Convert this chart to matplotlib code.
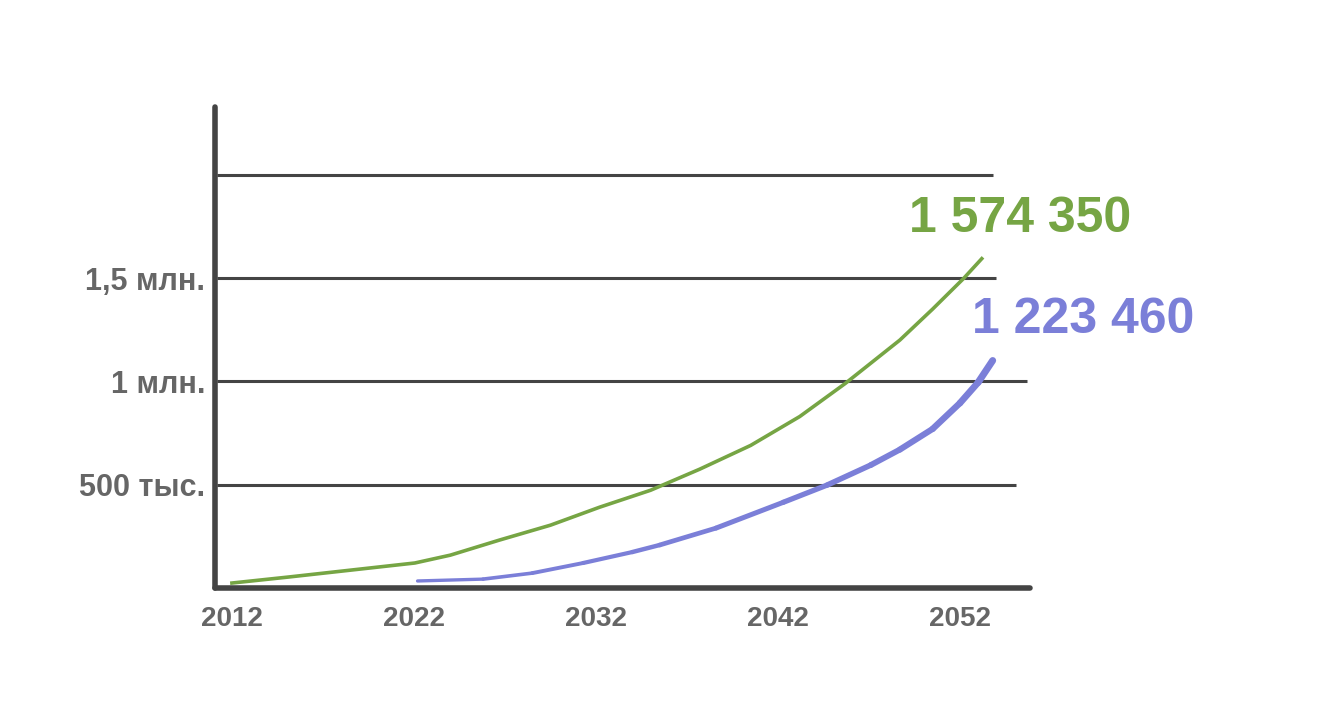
import matplotlib.pyplot as plt
import numpy as np
from matplotlib.collections import LineCollection

plt.rcParams['font.family'] = ['Liberation Sans', 'DejaVu Sans']

# values
green_years = [2012.0, 2015.1, 2022.05, 2024.0, 2026.7, 2029.5, 2032.2, 2035.0, 2037.7,
               2040.5, 2043.2, 2045.7, 2048.7, 2050.5, 2052.2, 2053.2]
green_vals = [24e3, 53e3, 121e3, 159e3, 232e3, 304e3, 391e3, 473e3, 575e3,
              690e3, 830e3, 990e3, 1200e3, 1350e3, 1498e3, 1594e3]

blue_years = [2022.2, 2025.8, 2028.5, 2031.3, 2034.0, 2035.5, 2038.6, 2042.3, 2044.7,
              2047.1, 2048.7, 2050.5, 2052.0, 2053.0, 2053.8]
blue_vals = [34e3, 43e3, 72e3, 121e3, 174e3, 208e3, 290e3, 415e3, 498e3,
             595e3, 670e3, 770e3, 895e3, 995e3, 1101e3]

x_ticks = [2012, 2022, 2032, 2042, 2052]
y_ticks = [500e3, 1e6, 1.5e6]
y_labels = ['500 тыс.', '1 млн.', '1,5 млн.']
grid_vals = [500e3, 1e6, 1.5e6, 2e6]
grid_ends = [2055.1, 2055.7, 2054.0, 2053.8]

green_label = '1 574 350'
blue_label = '1 223 460'

W, H = 1326, 702
fig = plt.figure(figsize=(W / 100, H / 100), dpi=100)
ax = fig.add_axes([215 / W, 1 - 588 / H, 815 / W, 481 / H])

dark = '#444444'
text_col = '#666666'
green = '#76a544'
blue = '#7b7fd8'

ax.set_xlim(2011.07, 2055.85)
ax.set_ylim(0, 2.328e6)

for v, e in zip(grid_vals, grid_ends):
    ax.plot([2011.2, e], [v, v], color=dark, lw=2.2, solid_capstyle='butt', zorder=1)

ax.plot(green_years, green_vals, color=green, lw=2.6, zorder=3, solid_joinstyle='round')

# blue line gets thicker toward the end
pts = np.column_stack([blue_years, blue_vals]).reshape(-1, 1, 2)
segs = np.concatenate([pts[:-1], pts[1:]], axis=1)
widths = np.linspace(2.4, 5.0, len(segs))
lc = LineCollection(segs, colors=blue, linewidths=widths, capstyle='round',
                    joinstyle='round', zorder=3)
ax.add_collection(lc)

for s in ['top', 'right']:
    ax.spines[s].set_visible(False)
for s in ['left', 'bottom']:
    ax.spines[s].set_linewidth(4)
    ax.spines[s].set_color(dark)
    ax.spines[s].set_capstyle('round')

ax.set_xticks(x_ticks)
ax.set_xticklabels([str(t) for t in x_ticks], fontsize=20, fontweight='bold', color=text_col)
ax.set_yticks(y_ticks)
ax.set_yticklabels(y_labels, fontsize=22, fontweight='bold', color=text_col)
ax.tick_params(axis='x', length=0, pad=13)
ax.tick_params(axis='y', length=0, pad=7)

ax.text(2055.3, 1.787e6, green_label, color=green, fontsize=36, fontweight='bold',
        ha='center', va='center')
ax.text(2058.76, 1.295e6, blue_label, color=blue, fontsize=36, fontweight='bold',
        ha='center', va='center')

fig.savefig('out.png', dpi=100)
